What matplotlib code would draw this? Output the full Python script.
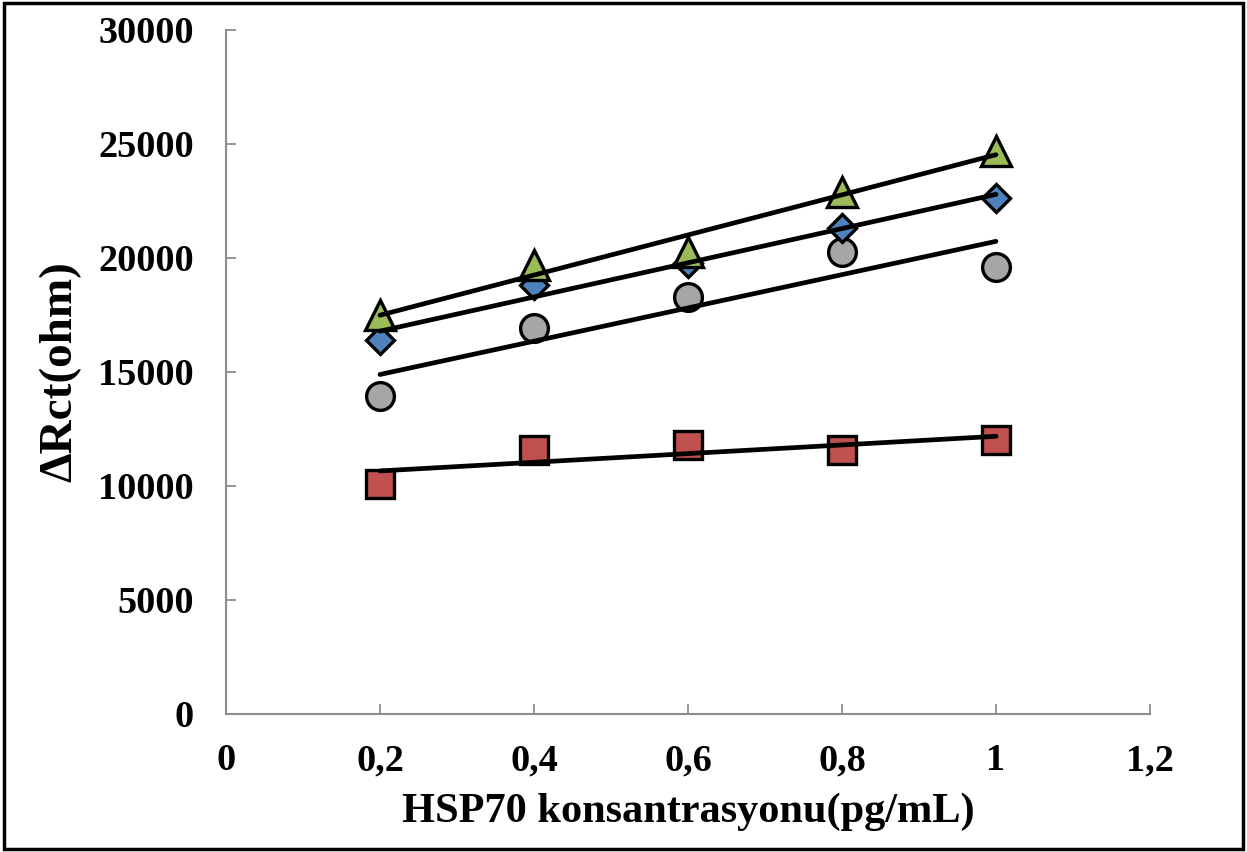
import numpy as np
import matplotlib
matplotlib.use("Agg")
import matplotlib.pyplot as plt
from matplotlib.patches import Rectangle

plt.rcParams['font.family'] = ['Liberation Serif', 'DejaVu Serif']
plt.rcParams['font.weight'] = 'bold'

# HSP70 concentration (pg/mL) and delta Rct (ohm) for each electrode series
conc = [0.2, 0.4, 0.6, 0.8, 1.0]
rct_diamond = [16400, 18800, 19800, 21300, 22650]
rct_square = [10100, 11600, 11800, 11600, 12000]
rct_triangle = [17500, 19700, 20250, 22900, 24700]
rct_circle = [13950, 16950, 18300, 20250, 19600]

x_ticks = [0, 0.2, 0.4, 0.6, 0.8, 1.0, 1.2]
x_ticklabels = ["0", "0,2", "0,4", "0,6", "0,8", "1", "1,2"]
y_ticks = [0, 5000, 10000, 15000, 20000, 25000, 30000]

series = [
    (rct_square, 's', '#C0504D', 19.5),
    (rct_circle, 'o', '#A6A6A6', 20),
    (rct_diamond, 'D', '#4F81BD', 14),
    (rct_triangle, '^', '#9BBB59', 21),
]

fig = plt.figure(figsize=(12.47, 8.52), dpi=100)
ax = fig.add_axes([0.1812, 0.1620, 0.7410, 0.8028])

x = np.array(conc)
for vals, mk, col, ms in series:
    ax.plot(x, vals, linestyle='none', marker=mk, markersize=ms,
            markerfacecolor=col, markeredgecolor='black', markeredgewidth=2.4,
            zorder=3)

# linear trend lines
for vals, mk, col, ms in series:
    k, b = np.polyfit(x, vals, 1)
    ax.plot([x[0], x[-1]], [k * x[0] + b, k * x[-1] + b], color='black',
            linewidth=3.4, solid_capstyle='round', zorder=4)

ax.set_xlim(0, 1.2)
ax.set_ylim(0, 30000)
ax.set_xticks(x_ticks)
ax.set_xticklabels(x_ticklabels)
ax.set_yticks(y_ticks)
ax.set_yticklabels([str(v) for v in y_ticks])

for side in ['top', 'right']:
    ax.spines[side].set_visible(False)
for side in ['left', 'bottom']:
    ax.spines[side].set_color('#8C8C8C')
    ax.spines[side].set_linewidth(1.5)

ax.tick_params(axis='both', direction='in', length=7, width=1.3, color='#8C8C8C',
               labelsize=27.5)
ax.tick_params(axis='y', pad=23)
ax.tick_params(axis='x', pad=21)
for lbl in ax.get_xticklabels() + ax.get_yticklabels():
    lbl.set_fontweight('bold')

ax.set_xlabel("HSP70 konsantrasyonu(pg/mL)", fontsize=30.5, fontweight='bold', labelpad=10)
ax.set_ylabel("ΔRct(ohm)", fontsize=34, fontweight='bold', labelpad=12)

fig.patches.append(Rectangle((0.003, 0.004), 0.994, 0.992, transform=fig.transFigure,
                             fill=False, edgecolor='black', linewidth=2.5))

fig.savefig("out.png", dpi=100)
